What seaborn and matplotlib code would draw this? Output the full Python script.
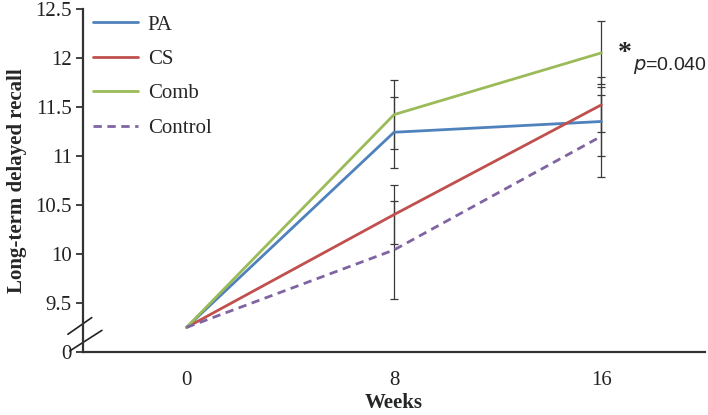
import numpy as np
import pandas as pd
import matplotlib
matplotlib.use('Agg')
import matplotlib.pyplot as plt
import seaborn as sns

# -------------------------
# Data
# -------------------------
weeks = ['0', '8', '16']
groups = ['PA', 'CS', 'Comb', 'Control']
pa = [9.25, 11.24, 11.35]
cs = [9.25, 10.40, 11.52]
comb = [9.25, 11.42, 12.05]
control = [9.25, 10.04, 11.20]
# error bars (none drawn at week 0)
pa_err = [0, 0.36, 0.35]
cs_err = [0, 0.30, 0.28]
comb_err = [0, 0.35, 0.32]
control_err = [0, 0.50, 0.42]

y_ticks = [9.0, 9.5, 10.0, 10.5, 11.0, 11.5, 12.0, 12.5]
y_tick_labels = ['0', '9.5', '10', '10.5', '11', '11.5', '12', '12.5']

colors = {'PA': '#4F81BD', 'CS': '#C0504D', 'Comb': '#9BBB59', 'Control': '#8064A2'}

# long table for seaborn
values = {'PA': pa, 'CS': cs, 'Comb': comb, 'Control': control}
errors = {'PA': pa_err, 'CS': cs_err, 'Comb': comb_err, 'Control': control_err}
rows = []
for g in groups:
    for i, w in enumerate(weeks):
        rows.append({'pos': i, 'week': w, 'group': g, 'recall': values[g][i], 'err': errors[g][i]})
df = pd.DataFrame(rows)

sns.set_theme(style='white')
plt.rcParams['font.family'] = ['Liberation Serif', 'DejaVu Serif']

fig, ax = plt.subplots(figsize=(7.08, 4.15), dpi=100)
fig.subplots_adjust(left=0.117, right=0.996, top=0.979, bottom=0.152)

# error bars first so lines sit on top
for g in groups:
    sub = df[(df['group'] == g) & (df['err'] > 0)]
    ax.errorbar(sub['pos'], sub['recall'], yerr=sub['err'], fmt='none',
                ecolor='#3a3a3a', elinewidth=0.9, capsize=3, capthick=0.9, zorder=2)

sns.lineplot(data=df, x='pos', y='recall', hue='group', style='group',
             hue_order=groups, style_order=groups, palette=colors,
             dashes={'PA': '', 'CS': '', 'Comb': '', 'Control': (3, 2)},
             linewidth=2.0, ax=ax, zorder=3)

# axes styling
ax.set_xlim(-0.5, 2.5)
ax.set_ylim(9.0, 12.5)
ax.set_xticks(range(len(weeks)))
ax.set_xticklabels(weeks)
ax.set_xticks([-0.5, 0.5, 1.5, 2.5], minor=True)
ax.set_yticks(y_ticks)
ax.set_yticklabels(y_tick_labels)
ax.tick_params(axis='x', which='major', length=0, pad=14, labelsize=15, colors='#222222')
ax.tick_params(axis='x', which='minor', length=6, width=1.3, direction='out', color='#333333')
ax.tick_params(axis='y', length=5, width=1.3, direction='out', pad=3, labelsize=15,
               color='#333333', labelcolor='#222222', left=True)
for s in ['top', 'right']:
    ax.spines[s].set_visible(False)
for s in ['left', 'bottom']:
    ax.spines[s].set_linewidth(1.6)
    ax.spines[s].set_color('#333333')
ax.grid(False)

ax.set_xlabel('Weeks', fontsize=15, fontweight='bold', labelpad=2)
ax.set_ylabel('Long-term delayed recall', fontsize=15, fontweight='bold', labelpad=6)

# axis break marks crossing the y axis
ax.plot([-0.572, -0.457], [9.18, 9.35], color='#222222', lw=1.2, clip_on=False)
ax.plot([-0.563, -0.408], [9.01, 9.22], color='#222222', lw=1.2, clip_on=False)

# significance annotation
ax.text(2.08, 12.04, '*', fontsize=20, fontweight='bold', ha='left', va='center')
ax.text(2.15, 11.92, r'$\it{p}$=0.040', fontsize=14, ha='left', va='center',
        family=['Liberation Sans', 'DejaVu Sans'])

leg = ax.legend(loc='upper left', bbox_to_anchor=(-0.011, 1.03), frameon=False, fontsize=15,
                handlelength=2.2, handletextpad=0.45, labelspacing=0.71, borderaxespad=0.4)
for line in leg.get_lines():
    line.set_linewidth(2.0)

fig.savefig('out.png', dpi=100)
